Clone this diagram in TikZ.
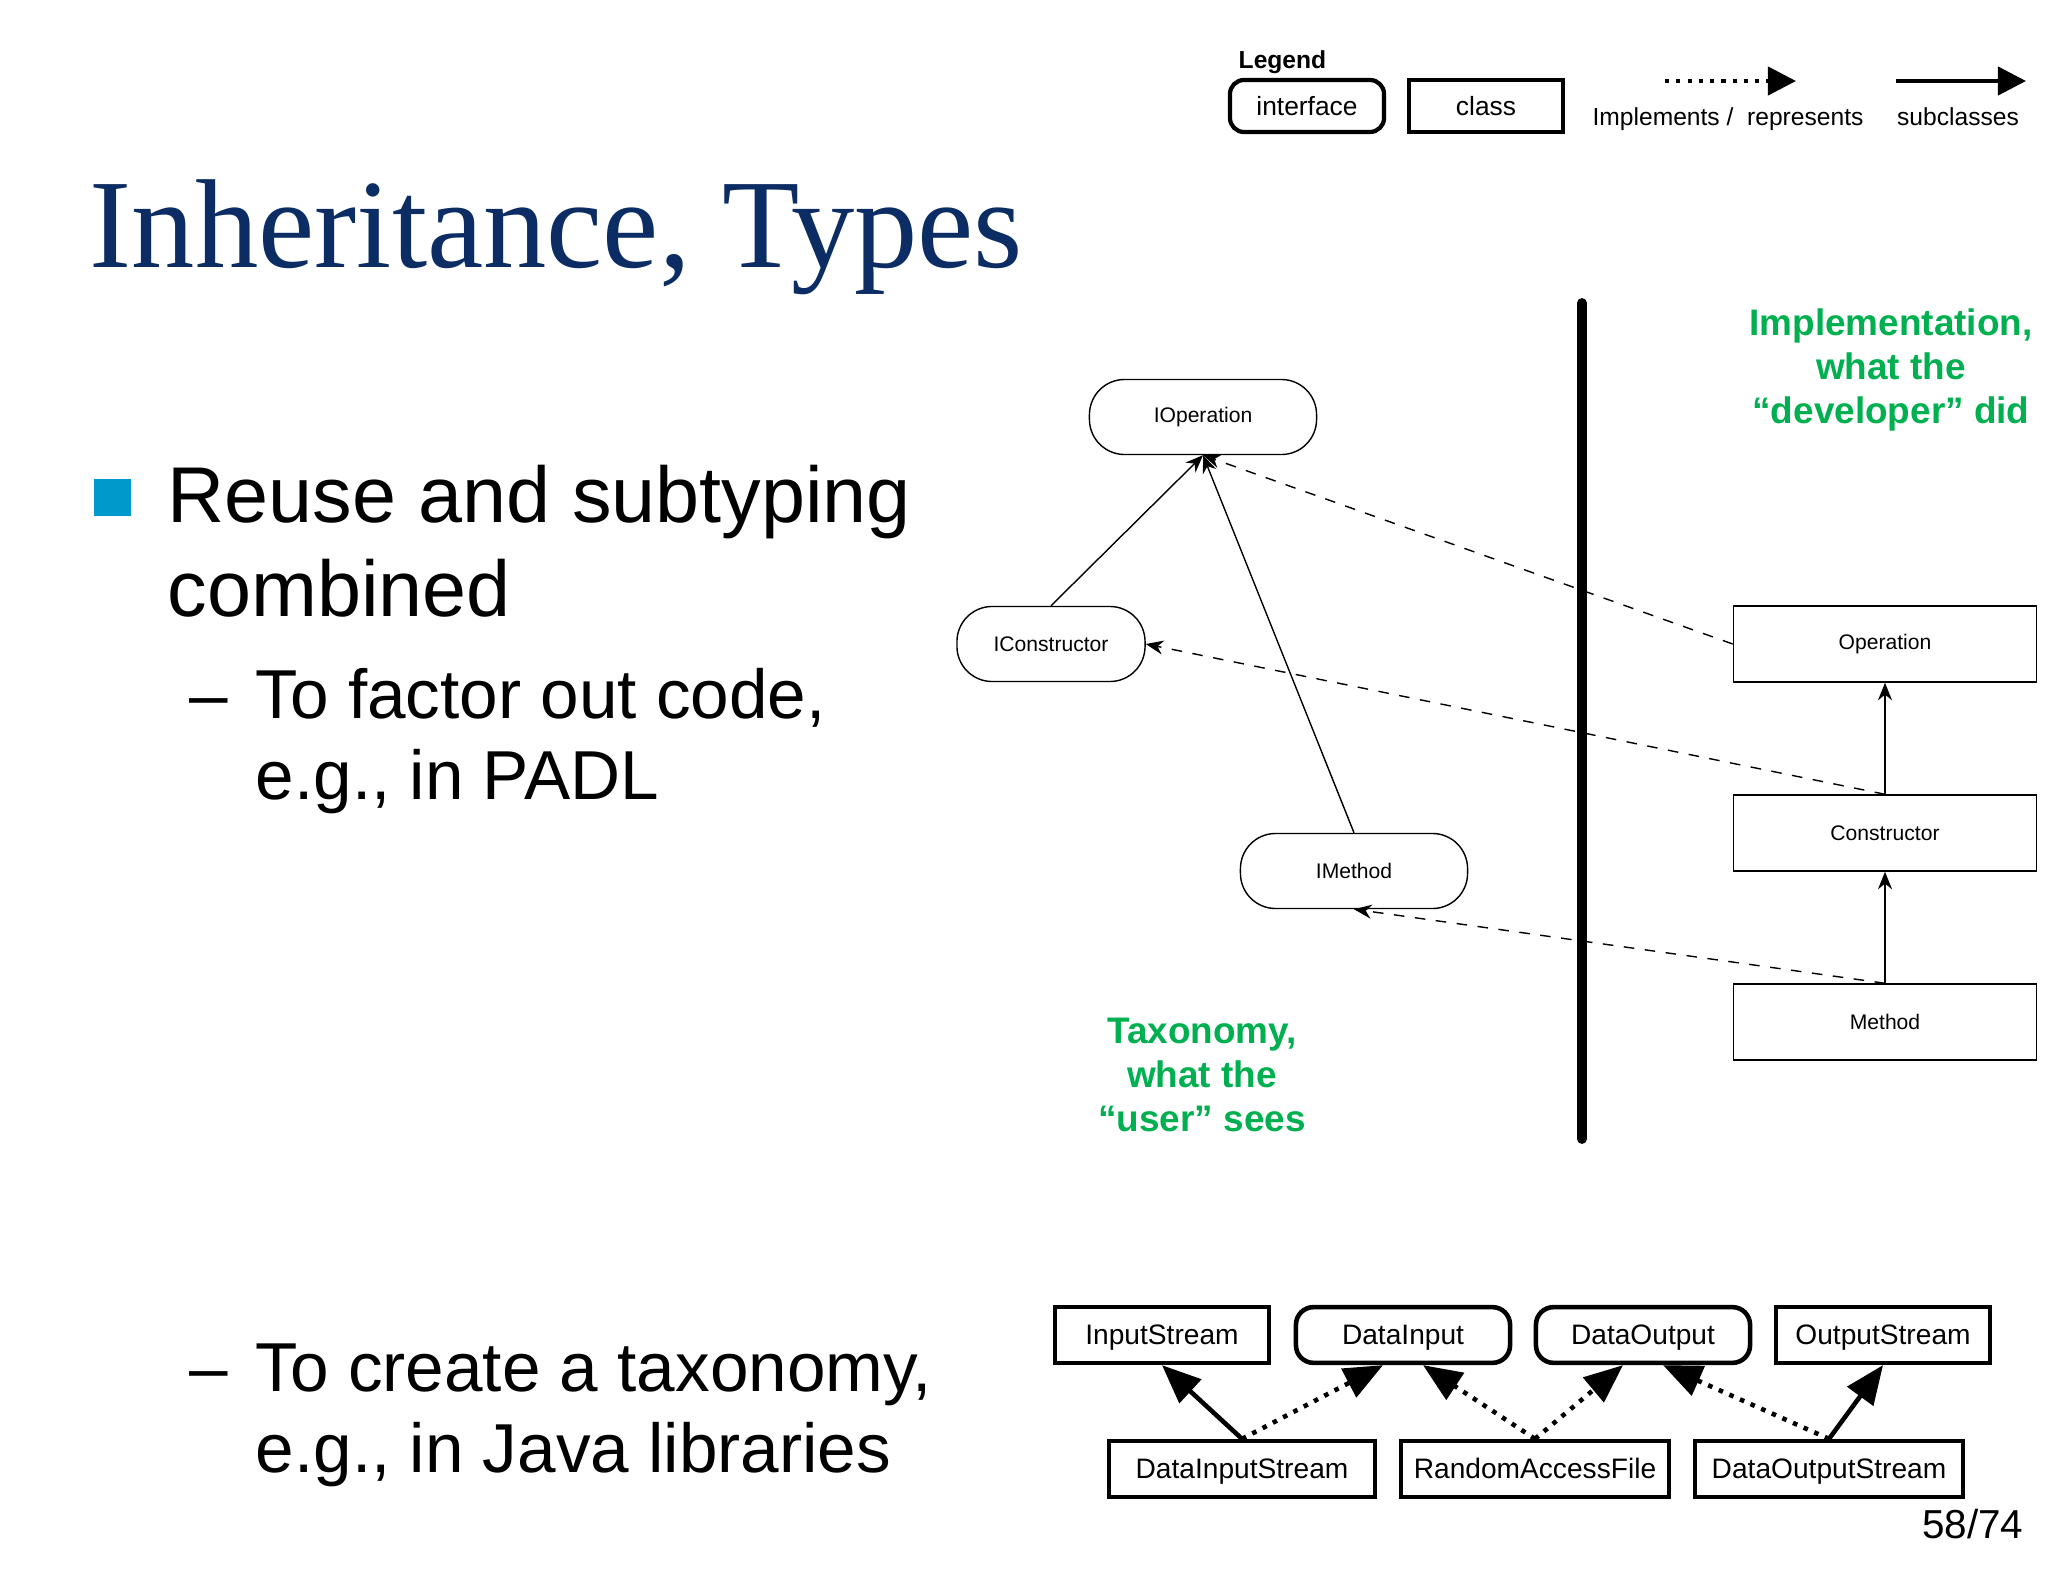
\documentclass[tikz,border=0pt]{standalone}
\usepackage{fontspec}
\setmainfont{Liberation Serif}
\newfontfamily\arial{Liberation Sans}
\usetikzlibrary{arrows.meta}
\definecolor{titleblue}{RGB}{12,45,100}
\definecolor{bulletblue}{RGB}{0,153,204}
\definecolor{devgreen}{RGB}{0,176,80}
\tikzstyle{iface} = [draw=black, rounded corners=10pt, minimum width=2.27cm, minimum height=0.75cm, font=\arial\fontsize{6}{7}\selectfont]
\tikzstyle{cls} = [draw=black, minimum width=3.03cm, minimum height=0.76cm, font=\arial\fontsize{6}{7}\selectfont]
\tikzstyle{jbox} = [draw=black, line width=1.3pt, minimum height=0.55cm, text height=1.6ex, text depth=0.4ex, font=\arial\fontsize{8}{10}\selectfont]
\tikzstyle{sub} = [-{Stealth[length=5pt,width=4pt]}]
\tikzstyle{impl} = [dashed, -{Stealth[length=5pt,width=4pt]}]
\tikzstyle{bigsub} = [line width=1.3pt, -{Triangle[length=11pt,width=9pt]}]
\tikzstyle{bigimpl} = [line width=1.3pt, dotted, -{Triangle[length=11pt,width=9pt]}]
\tikzstyle{green} = [text=devgreen, align=center, font=\arial\bfseries\fontsize{10.5}{12.5}\selectfont]
\tikzstyle{big} = [anchor=base west, inner sep=0, font=\arial\fontsize{22.5}{27}\selectfont]
\tikzstyle{mid} = [anchor=base west, inner sep=0, font=\arial\fontsize{19.7}{23}\selectfont]
\begin{document}
\begin{tikzpicture}[x=0.01cm, y=-0.01cm]
    \useasboundingbox (0,0) rectangle (2048,1582);
    % title and text
    \node (title) [anchor=base west, text=titleblue, font=\fontsize{36}{40}\selectfont, inner sep=0] at (89,268) {Inheritance, Types};
    \fill[bulletblue] (94,479) rectangle (131,516);
    \node (reuse) [big] at (167,522) {Reuse and subtyping};
    \node (combined) [big] at (167,616) {combined};
    \node (dash1) [mid] at (189,718) {–};
    \node (factor) [mid] at (255,718) {To factor out code,};
    \node (padl) [mid] at (255,799) {e.g., in PADL};
    \node (dash2) [mid] at (189,1391) {–};
    \node (taxo) [mid] at (255,1391) {To create a taxonomy,};
    \node (java) [mid] at (255,1472) {e.g., in Java libraries};
    \node (page) [anchor=base east, inner sep=0, font=\arial\fontsize{11.5}{13}\selectfont] at (2024,1538) {58/74};
    % legend
    \node (legend) [anchor=base west, inner sep=0, font=\arial\bfseries\fontsize{7}{8}\selectfont] at (1238,69) {Legend};
    \node (linterface) [draw, line width=1.2pt, rounded corners=4pt, minimum width=1.54cm, minimum height=0.52cm, font=\arial\fontsize{7.5}{9}\selectfont] at (1307,106) {interface};
    \node (lclass) [draw, line width=1.2pt, minimum width=1.54cm, minimum height=0.52cm, font=\arial\fontsize{7.5}{9}\selectfont] at (1486,106) {class};
    \coordinate (i1) at (1665,81);
    \coordinate (i2) at (1796,81);
    \coordinate (s1) at (1896,81);
    \coordinate (s2) at (2026,81);
    \draw [line width=1.2pt, dotted, -{Triangle[length=8pt,width=8pt]}] (i1) -- (i2);
    \draw [line width=1.2pt, -{Triangle[length=8pt,width=8pt]}] (s1) -- (s2);
    \node (limpl) [anchor=base, inner sep=0, font=\arial\fontsize{7}{8}\selectfont] at (1728,126) {Implements /\ \ represents};
    \node (lsub) [anchor=base, inner sep=0, font=\arial\fontsize{7}{8}\selectfont] at (1958,126) {subclasses};
    % separator
    \coordinate (top) at (1582,303);
    \coordinate (bot) at (1582,1139);
    \draw [line width=2.8pt, line cap=round] (top) -- (bot);
    \node (dev) [green] at (1891,370) {Implementation,\\what the\\“developer” did};
    \node (user) [green] at (1202,1075) {Taxonomy,\\what the\\“user” sees};
    % interfaces and classes
    \node (IOperation) [iface] at (1203,417) {IOperation};
    \node (IConstructor) [iface, minimum width=1.88cm] at (1051,644) {IConstructor};
    \node (IMethod) [iface] at (1354,871) {IMethod};
    \node (Operation) [cls] at (1885,644) {Operation};
    \node (Constructor) [cls] at (1885,833) {Constructor};
    \node (Method) [cls] at (1885,1022) {Method};
    \draw [sub] (IConstructor.north) -- (IOperation.south);
    \draw [sub] (IMethod.north) -- (IOperation.south);
    \draw [impl] (Operation.west) -- (IOperation.south);
    \draw [impl] (Constructor.north) -- (IConstructor.east);
    \draw [impl] (Method.north) -- (IMethod.south);
    \draw [sub] (Constructor.north) -- (Operation.south);
    \draw [sub] (Method.north) -- (Constructor.south);
    % java example
    \node (InputStream) [jbox, minimum width=2.14cm] at (1162,1335) {InputStream};
    \node (DataInput) [jbox, rounded corners=5pt, minimum width=2.14cm] at (1403,1335) {DataInput};
    \node (DataOutput) [jbox, rounded corners=5pt, minimum width=2.14cm] at (1643,1335) {DataOutput};
    \node (OutputStream) [jbox, minimum width=2.14cm] at (1883,1335) {OutputStream};
    \node (DataInputStream) [jbox, minimum width=2.66cm] at (1242,1469) {DataInputStream};
    \node (RandomAccessFile) [jbox, minimum width=2.68cm] at (1535,1469) {RandomAccessFile};
    \node (DataOutputStream) [jbox, minimum width=2.68cm] at (1829,1469) {DataOutputStream};
    \draw [bigsub] (DataInputStream.north) -- (InputStream.south);
    \draw [bigimpl] (DataInputStream.north) -- ([xshift=-0.2cm]DataInput.south);
    \draw [bigimpl] (RandomAccessFile.north) -- ([xshift=0.2cm]DataInput.south);
    \draw [bigimpl] (RandomAccessFile.north) -- ([xshift=-0.2cm]DataOutput.south);
    \draw [bigimpl] (DataOutputStream.north) -- ([xshift=0.2cm]DataOutput.south);
    \draw [bigsub] (DataOutputStream.north) -- (OutputStream.south);
\end{tikzpicture}
\end{document}
